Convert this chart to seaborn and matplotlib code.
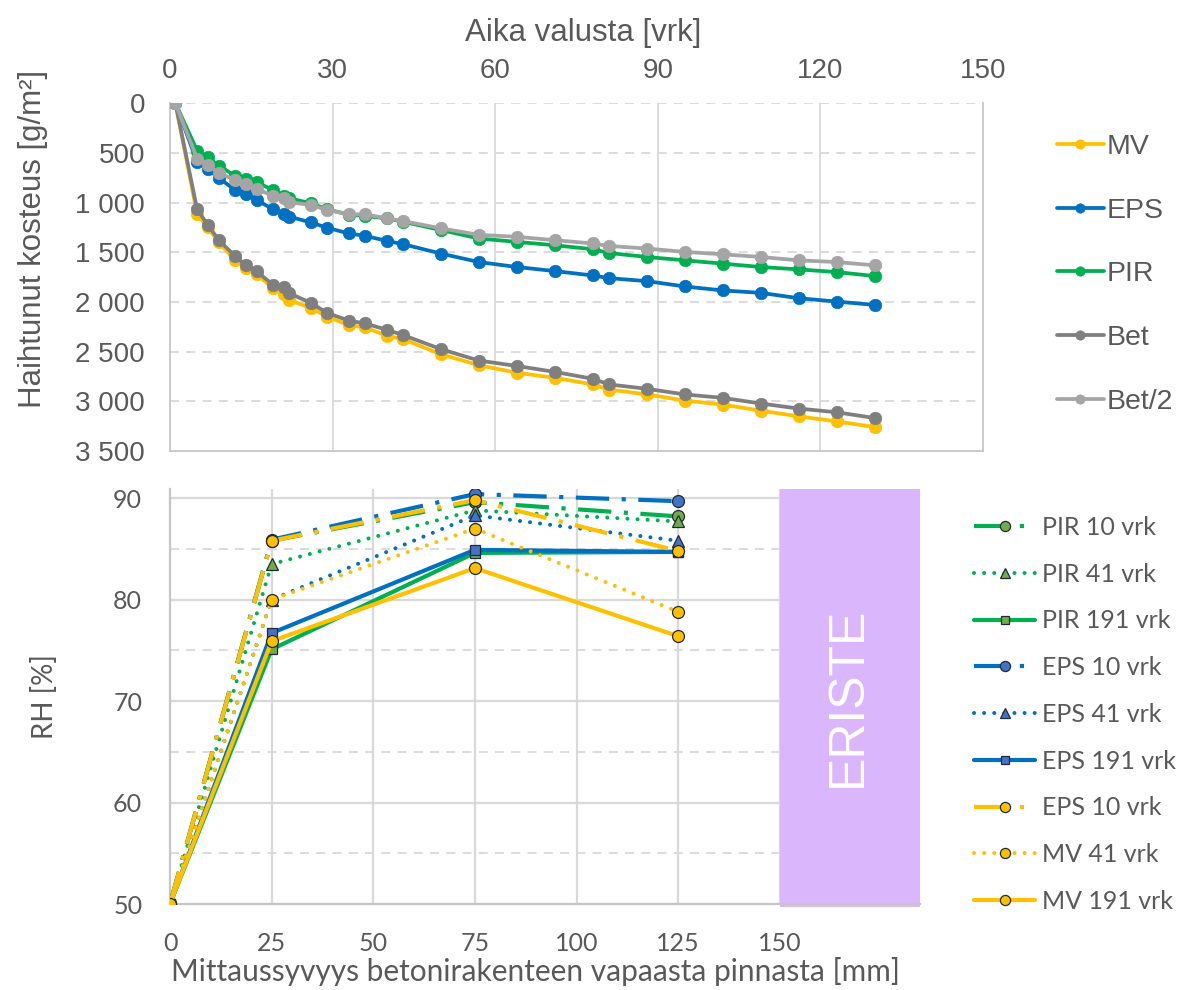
import matplotlib
matplotlib.use("Agg")
import matplotlib.pyplot as plt
import seaborn as sns
import pandas as pd
from matplotlib.ticker import FuncFormatter, MultipleLocator
from matplotlib.patches import Rectangle

# ---------------- data: top chart (evaporated moisture) ----------------
days = [1, 5, 7, 9, 12, 14, 16, 19, 21, 22, 26, 29, 33, 36, 40, 43, 50, 57,
        64, 71, 78, 81, 88, 95, 102, 109, 116, 123, 130]
mv = [0, 1115, 1250, 1400, 1580, 1655, 1720, 1861, 1918, 1979, 2060, 2148, 2232,
      2256, 2340, 2374, 2526, 2637, 2712, 2763, 2830, 2881, 2931, 2992, 3033,
      3094, 3151, 3202, 3259]
eps = [0, 590, 662, 753, 871, 915, 973, 1067, 1115, 1141, 1199, 1253, 1310, 1334,
       1385, 1418, 1513, 1598, 1648, 1689, 1733, 1760, 1790, 1844, 1884, 1908,
       1962, 1996, 2029]
pir = [0, 476, 544, 628, 729, 763, 797, 871, 932, 956, 1006, 1067, 1120, 1135,
       1158, 1192, 1276, 1361, 1395, 1429, 1469, 1507, 1547, 1581, 1614, 1648,
       1672, 1699, 1739]
bet = [0, 1067, 1226, 1378, 1537, 1631, 1692, 1827, 1851, 1912, 2009, 2110, 2188,
       2216, 2280, 2333, 2475, 2590, 2644, 2704, 2773, 2830, 2874, 2931, 2965,
       3022, 3073, 3110, 3168]
bet2 = [0, 557, 618, 702, 770, 814, 861, 932, 956, 996, 1023, 1074, 1118, 1118,
        1158, 1185, 1259, 1324, 1344, 1378, 1411, 1436, 1462, 1496, 1520, 1547,
        1581, 1598, 1631]
top_labels = ["MV", "EPS", "PIR", "Bet", "Bet/2"]
top_xticks = [0, 30, 60, 90, 120, 150]
top_yticks = [0, 500, 1000, 1500, 2000, 2500, 3000, 3500]

# ---------------- data: bottom chart (RH profiles) ----------------
depth = [0, 25, 75, 125]
pir_10 = [50, 85.8, 89.6, 88.2]
pir_41 = [50, 83.5, 88.8, 87.7]
pir_191 = [50, 75.1, 84.6, 84.7]
eps_10 = [50, 85.9, 90.4, 89.7]
eps_41 = [50, 80.0, 88.3, 85.8]
eps_191 = [50, 76.7, 84.9, 84.7]
mv_10 = [50, 85.8, 89.8, 84.8]
mv_41 = [50, 80.0, 87.0, 78.8]
mv_191 = [50, 75.9, 83.1, 76.4]
bottom_labels = ["PIR 10 vrk", "PIR 41 vrk", "PIR 191 vrk",
                 "EPS 10 vrk", "EPS 41 vrk", "EPS 191 vrk",
                 "EPS 10 vrk", "MV 41 vrk", "MV 191 vrk"]
bottom_xticks = [0, 25, 50, 75, 100, 125, 150]
bottom_yticks = [50, 60, 70, 80, 90]
insulation_label = "ERISTE"

# ---------------- style ----------------
sns.set_style("white")
plt.rcParams["font.family"] = ["Liberation Sans", "DejaVu Sans"]
TXT = "#595959"
GRID = "#D9D9D9"
SPINE = "#C6C6C6"
ARIAL = ["Liberation Sans", "DejaVu Sans"]
CALIB = ["Lato", "DejaVu Sans"]

W, H = 1180, 990
fig = plt.figure(figsize=(W / 100, H / 100), dpi=100)

def frac(x0, y0, x1, y1):
    return [x0 / W, 1 - y1 / H, (x1 - x0) / W, (y1 - y0) / H]

# ================= top chart =================
ax1 = fig.add_axes(frac(170, 103.3, 983, 451))
top_data = pd.DataFrame({"days": days, "MV": mv, "EPS": eps, "PIR": pir,
                         "Bet": bet, "Bet/2": bet2})
top_colors = ["#FFC000", "#0070C0", "#00B050", "#7F7F7F", "#A5A5A5"]
top_handles = []
for lab, col in zip(top_labels, top_colors):
    sns.lineplot(data=top_data, x="days", y=lab, ax=ax1, color=col,
                 linewidth=2.7, marker="o", markersize=9,
                 markeredgecolor=col, markeredgewidth=0.5, label=lab,
                 legend=False, zorder=3)
    top_handles.append(ax1.lines[-1])

ax1.set_xlim(0, 150)
ax1.set_ylim(3500, 0)
ax1.set_xticks(top_xticks)
ax1.set_yticks(top_yticks)
ax1.yaxis.set_major_formatter(FuncFormatter(lambda v, p: f"{int(v):,}".replace(",", " ")))
ax1.xaxis.tick_top()
ax1.xaxis.set_label_position("top")
ax1.grid(False)
for x in top_xticks[1:]:
    ax1.axvline(x, color=GRID, lw=1.3, zorder=1)
for y in top_yticks[:-1]:
    ax1.axhline(y, color=GRID, lw=1.3, ls=(0, (5, 4)), zorder=1)
ax1.spines["top"].set_visible(False)
for side in ["left", "bottom", "right"]:
    ax1.spines[side].set_color(SPINE)
    ax1.spines[side].set_linewidth(1.3)
ax1.tick_params(axis="both", length=0, colors=TXT, labelsize=20)
ax1.tick_params(axis="x", pad=14)
ax1.tick_params(axis="y", pad=18)
for t in ax1.get_xticklabels() + ax1.get_yticklabels():
    t.set_fontfamily(ARIAL)
ax1.set_xlabel("Aika valusta [vrk]", fontsize=22.5, color=TXT, family=ARIAL)
ax1.set_ylabel("Haihtunut kosteus [g/m²]", fontsize=22.5, color=TXT, family=ARIAL)
ax1.xaxis.set_label_coords(0.508, 1.18)
ax1.yaxis.set_label_coords(-0.15, 0.61)

fig.legend(handles=top_handles, labels=top_labels, loc="center left",
           bbox_to_anchor=(1057 / W, 1 - 274.4 / H), frameon=False,
           prop={"family": ARIAL, "size": 20.5}, labelcolor=TXT,
           handlelength=1.65, handletextpad=0.1, labelspacing=1.32,
           borderpad=0, borderaxespad=0, markerscale=0.75)

# ================= bottom chart =================
ax2 = fig.add_axes(frac(170, 489, 920, 904))
bottom_values = [pir_10, pir_41, pir_191, eps_10, eps_41, eps_191,
                 mv_10, mv_41, mv_191]
GREEN, BLUE, YEL = "#00B050", "#0070C0", "#FFC000"
GFILL, BFILL, YFILL = "#70AD47", "#4472C4", "#FFC000"
DASHDOT = (0, (8, 3, 1, 3))
DOT = (0, (0.01, 2.5))
styles = [
    (GREEN, GFILL, "o", DASHDOT, 3.0, 8.6),
    (GREEN, GFILL, "^", DOT, 2.9, 8.8),
    (GREEN, GFILL, "s", "-", 3.0, 7.6),
    (BLUE, BFILL, "o", DASHDOT, 3.0, 8.6),
    (BLUE, BFILL, "^", DOT, 2.9, 8.8),
    (BLUE, BFILL, "s", "-", 3.0, 7.6),
    (YEL, YFILL, "o", DASHDOT, 3.0, 8.6),
    (YEL, YFILL, "o", DOT, 2.9, 8.6),
    (YEL, YFILL, "o", "-", 3.0, 8.6),
]
bottom_handles = []
for i, (lab, vals, st) in enumerate(zip(bottom_labels, bottom_values, styles)):
    lc, mf, mk, ls, lw, ms = st
    df = pd.DataFrame({"depth": depth, "rh": vals})
    sns.lineplot(data=df, x="depth", y="rh", ax=ax2, color=lc, linewidth=lw,
                 linestyle=ls, marker=mk, markersize=ms, markerfacecolor=mf,
                 markeredgecolor="#1F2A3A", markeredgewidth=0.9,
                 dash_capstyle="round" if ls == DOT else "butt",
                 label=lab, legend=False, zorder=3 + i * 0.01)
    bottom_handles.append(ax2.lines[-1])

ax2.set_xlim(0, 184.5)
ax2.set_ylim(50, 90.9)
ax2.set_xticks(bottom_xticks)
ax2.set_yticks(bottom_yticks)
ax2.yaxis.set_minor_locator(MultipleLocator(5))
ax2.grid(False)
for x in bottom_xticks[1:]:
    ax2.axvline(x, color=GRID, lw=1.6, zorder=1)
for y in bottom_yticks[1:]:
    ax2.axhline(y, color=GRID, lw=1.6, zorder=1)
for y in [55, 65, 75, 85]:
    ax2.axhline(y, color=GRID, lw=1.3, ls=(0, (5, 4)), zorder=1)
ax2.spines["top"].set_visible(False)
ax2.spines["right"].set_visible(False)
for side in ["left", "bottom"]:
    ax2.spines[side].set_color(SPINE)
    ax2.spines[side].set_linewidth(1.6)
ax2.tick_params(axis="both", which="both", length=0, colors=TXT, labelsize=18)
ax2.tick_params(axis="x", pad=20)
ax2.tick_params(axis="y", pad=20)
for t in ax2.get_xticklabels() + ax2.get_yticklabels():
    t.set_fontfamily(CALIB)
ax2.set_xlabel("Mittaussyvyys betonirakenteen vapaasta pinnasta [mm]",
               fontsize=21.5, color=TXT, family=CALIB)
ax2.set_ylabel("RH [%]", fontsize=20, color=TXT, family=CALIB)
ax2.xaxis.set_label_coords(0.487, -0.128)
ax2.yaxis.set_label_coords(-0.15, 0.5)

rect = Rectangle((150, 49.7), 34.5, 41.2, facecolor="#DAB6FC", edgecolor="none",
                 clip_on=False, zorder=2)
ax2.add_patch(rect)
ax2.text(166.7, 70.4, insulation_label, rotation=90, ha="center", va="center",
         color="white", fontsize=36, family=ARIAL, zorder=4)

fig.legend(handles=bottom_handles, labels=bottom_labels, loc="center left",
           bbox_to_anchor=(974 / W, 1 - 714.4 / H), frameon=False,
           prop={"family": CALIB, "size": 18}, labelcolor=TXT,
           handlelength=2.45, handletextpad=0.28, labelspacing=0.95,
           borderpad=0, borderaxespad=0, markerscale=0.85)

fig.savefig("out.png", dpi=100)
